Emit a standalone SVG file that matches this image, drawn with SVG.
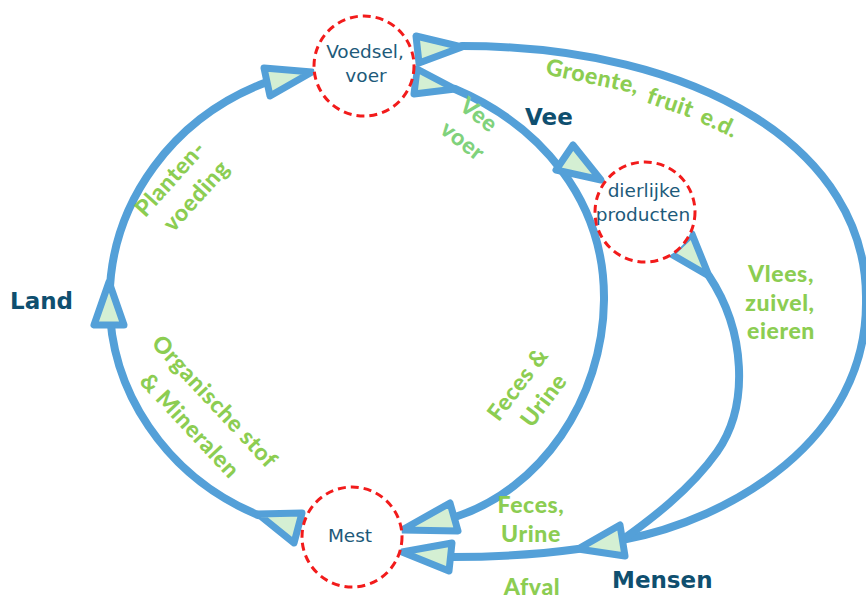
<svg xmlns="http://www.w3.org/2000/svg" width="866" height="601" viewBox="0 0 866 601">
  <style>
    .flow { fill: none; stroke: #54a0d8; stroke-width: 8; stroke-linecap: round; }
    .head { fill: #d4efd3; stroke: #54a0d8; stroke-width: 7; stroke-linejoin: round; }
    .node { fill: #ffffff; stroke: #f21b1b; stroke-width: 3; stroke-dasharray: 8 5; }
    .ntext { font-family: "DejaVu Sans", Verdana, sans-serif; font-size: 18.5px; fill: #1d5a7a; text-anchor: middle; }
    .place { font-family: "DejaVu Sans", Verdana, sans-serif; font-weight: bold; font-size: 23px; fill: #0f4f6f; }
    .flowlbl { font-family: Lato, "Open Sans", sans-serif; font-weight: 900; font-size: 23px; letter-spacing: 0.6px; fill: #8ccd52; text-anchor: middle; }
    .feed { fill: #80d27c; }
  </style>

  <!-- flows between the stations -->
  <g id="connectors">
    <!-- Mest -> Land -> Voedsel -->
    <path class="flow" d="M 258,515 A 250 235 0 0 1 267,82"/>
    <!-- Voedsel -> Vee -> Mest -->
    <path class="flow" d="M 455,89 C 540,125 605,200 604,300 C 603,400 540,490 455,517"/>
    <!-- Voedsel -> Mensen (groente, fruit) -->
    <path class="flow" d="M 462,46 C 700,46 868,150 866,300 C 868,440 730,520 622,540"/>
    <!-- dierlijke producten -> Mensen -->
    <path class="flow" d="M 709,276 C 745,330 750,405 717,452 C 690,490 650,520 622,540"/>
    <!-- Mensen -> Mest -->
    <path class="flow" d="M 578,549 Q 520,557 452,557"/>

    <polygon class="head" points="264,68 270,96 312,72"/>
    <polygon class="head" points="416,36 419,63 462,47"/>
    <polygon class="head" points="417,69 414,94 455,89"/>
    <polygon class="head" points="573,145 556,170 601,180"/>
    <polygon class="head" points="671,254 692,234 709,276"/>
    <polygon class="head" points="450,503 458,531 402,530"/>
    <polygon class="head" points="452,543 449,571 402,552"/>
    <polygon class="head" points="620,525 625,556 578,549"/>
    <polygon class="head" points="258,514 302,513 294,543"/>
    <polygon class="head" points="109,282 94,325 124,325"/>
  </g>

  <g id="node-voedsel">
    <circle class="node" cx="364" cy="66" r="50"/>
    <text class="ntext" x="365" y="58">Voedsel,</text>
    <text class="ntext" x="366" y="82">voer</text>
  </g>

  <g id="node-dierlijke-producten">
    <circle class="node" cx="645" cy="212" r="50"/>
    <text class="ntext" x="644" y="197">dierlijke</text>
    <text class="ntext" x="643" y="221">producten</text>
  </g>

  <g id="node-mest">
    <circle class="node" cx="352" cy="537" r="50"/>
    <text class="ntext" x="350" y="542">Mest</text>
  </g>

  <g id="places">
    <text class="place" x="10" y="309">Land</text>
    <text class="place" x="525" y="125">Vee</text>
    <text class="place" x="612" y="588">Mensen</text>
  </g>

  <g id="flow-labels">
    <text class="flowlbl" transform="translate(176,184) rotate(-48)">Planten-</text>
    <text class="flowlbl" transform="translate(202,201) rotate(-48)">voeding</text>

    <text class="flowlbl" transform="translate(209,407) rotate(47)">Organische stof</text>
    <text class="flowlbl" transform="translate(184,431) rotate(47)">&amp; Mineralen</text>

    <text class="flowlbl feed" transform="translate(474,121) rotate(38)">Vee</text>
    <text class="flowlbl feed" transform="translate(458,147) rotate(38)">voer</text>

    <text class="flowlbl" transform="translate(524,389) rotate(-53)">Feces &amp;</text>
    <text class="flowlbl" transform="translate(550,405) rotate(-53)">Urine</text>

    <!-- label bending with the outer arc -->
    <text class="flowlbl" transform="translate(591,84) rotate(12)">Groente,</text>
    <text class="flowlbl" transform="translate(668,110) rotate(19)">fruit</text>
    <text class="flowlbl" transform="translate(716,130) rotate(25)">e.d.</text>

    <text class="flowlbl" x="781" y="282">Vlees,</text>
    <text class="flowlbl" x="780" y="311">zuivel,</text>
    <text class="flowlbl" x="781" y="339">eieren</text>

    <text class="flowlbl" x="531" y="513">Feces,</text>
    <text class="flowlbl" x="531" y="542">Urine</text>
    <text class="flowlbl" x="532" y="595">Afval</text>
  </g>
</svg>
